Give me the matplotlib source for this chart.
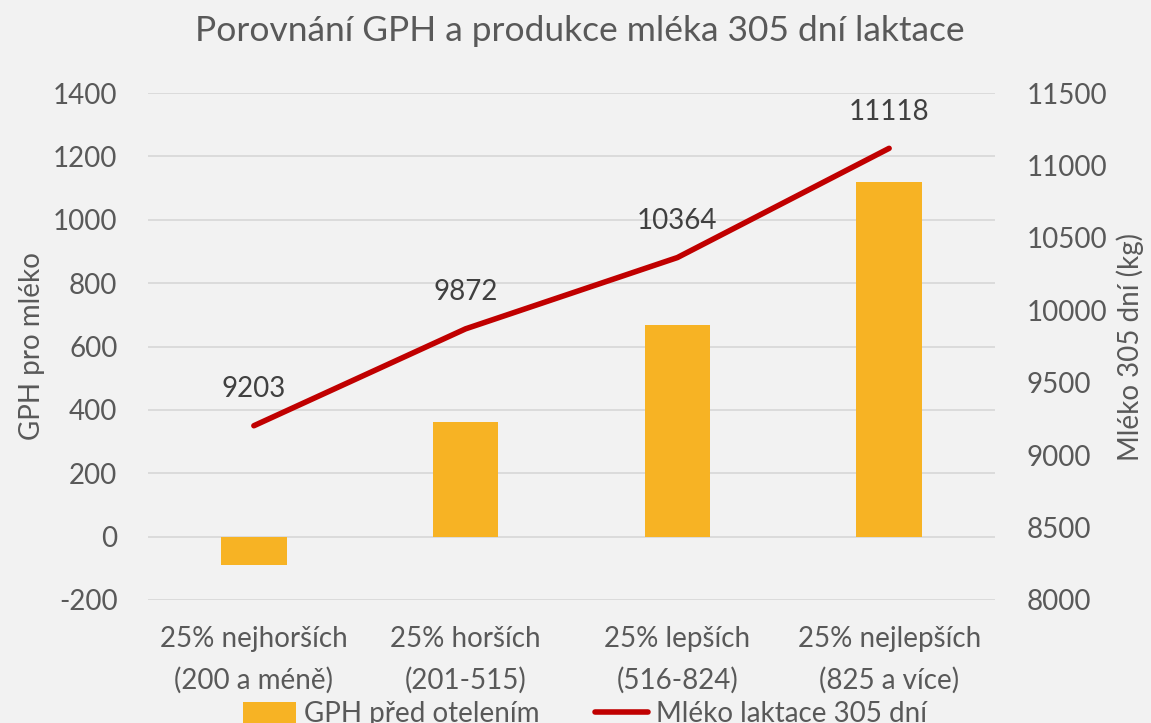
import matplotlib.pyplot as plt

plt.rcParams['font.family'] = ['Lato', 'DejaVu Sans']
plt.rcParams['axes.unicode_minus'] = False

kategorie = ["25% nejhorších\n(200 a méně)", "25% horších\n(201-515)",
             "25% lepších\n(516-824)", "25% nejlepších\n(825 a více)"]
gph = [-89, 363, 668, 1120]
mleko = [9203, 9872, 10364, 11118]

bg = '#f2f2f2'
txt = '#595959'

fig = plt.figure(figsize=(11.51, 7.23), dpi=100, facecolor=bg)
ax = fig.add_axes([148/1151, 1-600/723, (995-148)/1151, (600-93)/723])
ax.set_facecolor(bg)

x = list(range(len(kategorie)))
ax.bar(x, gph, width=0.31, color='#f7b324', zorder=2, label='GPH před otelením')
ax.set_ylim(-200, 1400)
ax.set_yticks(range(-200, 1401, 200))
ax.set_xlim(-0.5, 3.5)
ax.set_xticks(x)
ax.set_xticklabels(kategorie, fontsize=20, color=txt, linespacing=1.65)
ax.tick_params(axis='y', labelsize=20, colors=txt, length=0, pad=22)
ax.tick_params(axis='x', length=0, pad=19)
ax.grid(axis='y', color='#d9d9d9', linewidth=1.3, zorder=0)
for s in ax.spines.values():
    s.set_visible(False)
ax.set_ylabel('GPH pro mléko', fontsize=20, color=txt, labelpad=6)

ax2 = ax.twinx()
ax2.plot(x, mleko, color='#c00000', linewidth=4, solid_capstyle='round', zorder=3,
         label='Mléko laktace 305 dní')
ax2.set_ylim(8000, 11500)
ax2.set_yticks(range(8000, 11501, 500))
ax2.tick_params(axis='y', labelsize=20, colors=txt, length=0, pad=23)
for s in ax2.spines.values():
    s.set_visible(False)
ax2.set_ylabel('Mléko 305 dní (kg)', fontsize=20, color=txt, labelpad=6)
for xi, v in zip(x, mleko):
    ax2.annotate(str(v), (xi, v), xytext=(0, 17), textcoords='offset points',
                 ha='center', va='bottom', fontsize=20, color='#404040')

fig.text(580/1151, 1-31/723, 'Porovnání GPH a produkce mléka 305 dní laktace',
         ha='center', va='center', fontsize=25.5, color=txt)

h1, l1 = ax.get_legend_handles_labels()
h2, l2 = ax2.get_legend_handles_labels()
fig.legend(h1 + h2, l1 + l2, loc='center', bbox_to_anchor=(585/1151, 1-714/723),
           ncol=2, frameon=False, fontsize=20, labelcolor=txt,
           handlelength=1.9, handleheight=0.8, columnspacing=2.0, handletextpad=0.3)

fig.savefig('out.png', dpi=100, facecolor=bg)
